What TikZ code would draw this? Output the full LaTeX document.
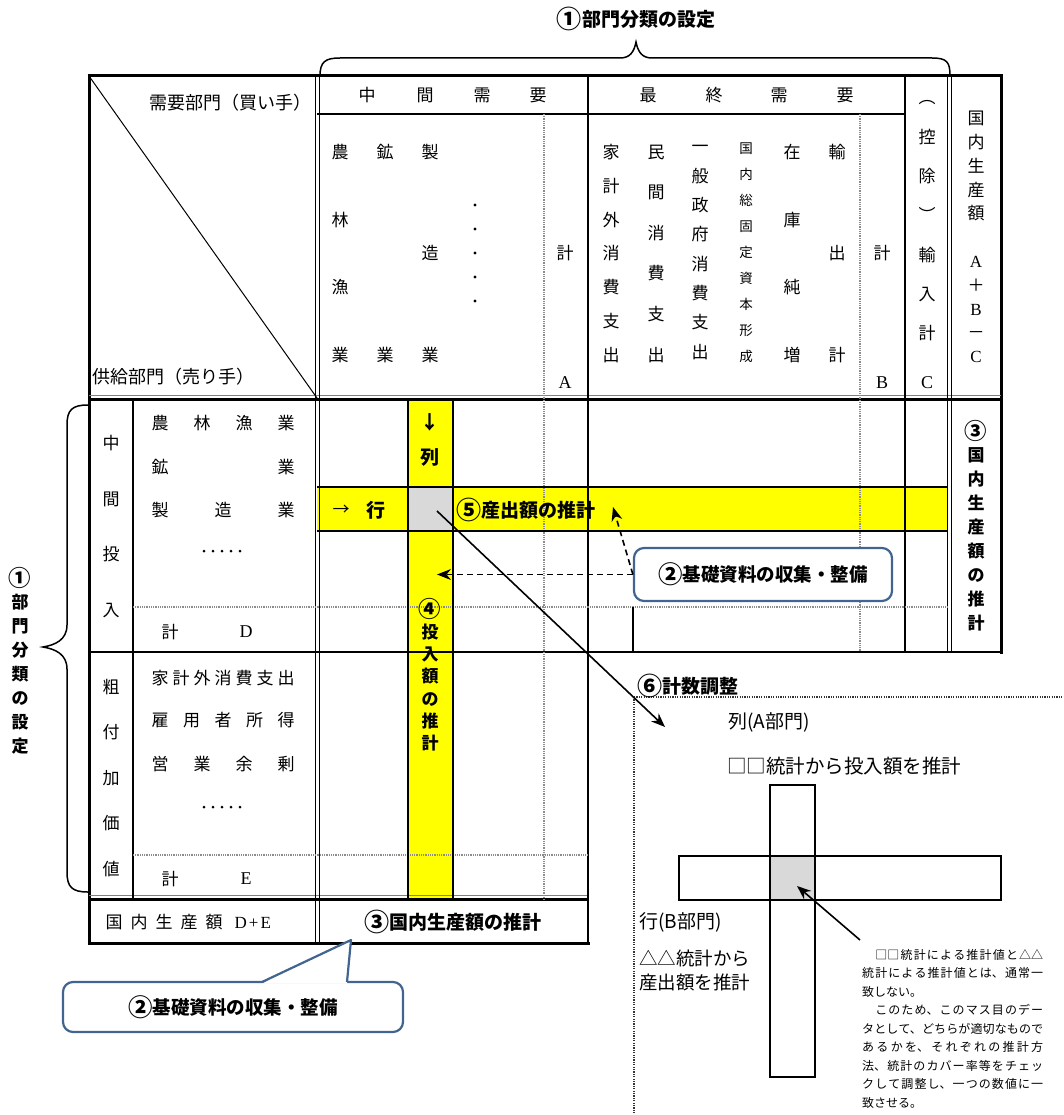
\documentclass[tikz,border=0pt]{standalone}
\usepackage{fontspec}
\setmainfont{Noto Sans CJK JP}
\newfontfamily\lat{Liberation Serif}
\usetikzlibrary{arrows.meta}
\definecolor{cyel}{RGB}{255,255,0}
\definecolor{cgray}{RGB}{217,217,217}
\definecolor{cblue}{RGB}{65,100,145}
\newcommand{\fsz}[2]{\fontsize{#1}{#2}\selectfont}
\newcommand{\cnum}[1]{\raisebox{-0.12em}{\scalebox{1.32}{#1}}}
\begin{document}
\begin{tikzpicture}[x=1pt,y=-1pt,
 tx/.style={inner sep=0pt,font=\fsz{17}{17}},
 ltx/.style={inner sep=0pt,font=\lat\fsz{18}{18}},
 vcol/.style={inner sep=0pt,align=center,font=\fsz{17}{#1}},
 vcolsm/.style={inner sep=0pt,align=center,font=\fsz{13.5}{#1}},
 bvcol/.style={inner sep=0pt,align=center,font=\bfseries\fsz{17}{#1}},
 bl/.style={inner sep=0pt,font=\bfseries\fsz{19}{19}},
 gline/.style={line width=2pt},
 bline/.style={line width=3pt},
 dline/.style={black!45,line width=1.4pt,dash pattern=on 1pt off 0.8pt},
 pline/.style={black!80,line width=1.2pt,dash pattern=on 1.2pt off 1.2pt},
 callout/.style={draw=cblue,line width=2.2pt,rounded corners=10pt,fill=white,inner sep=0pt,font=\bfseries\fsz{18.5}{18.5}},
 arr/.style={line width=1.6pt,-{Stealth[length=14pt,width=11pt]}},
 darr/.style={line width=1.6pt,dash pattern=on 6pt off 4pt,-{Stealth[length=14pt,width=11pt]}},
 brace/.style={line width=1.5pt}
]
\useasboundingbox (0,0) rectangle (1064,1115);

% ---------- fills ----------
\fill[cyel] (408,399) rectangle (453,899);
\fill[cyel] (317,487) rectangle (948,531);
\node[fill=cgray,minimum width=45pt,minimum height=44pt,inner sep=0pt] (gcell) at (430.5,509) {};

% ---------- grid ----------
\draw[bline] (87.5,76) -- (1002.5,76);
\draw[bline] (89,74.5) -- (89,944.5);
\draw[bline] (1001,74.5) -- (1001,653.5);
\draw[bline] (87.5,943) -- (589.5,943);
\draw[line width=2.5pt] (89,652) -- (1002.5,652);
\draw[black!50,line width=1pt] (89,395.5) -- (1001,395.5);
\draw[bline] (89,399.5) -- (1001,399.5);
\draw[black!50,line width=1pt] (89,895.5) -- (588,895.5);
\draw[bline] (89,899.5) -- (588,899.5);
\draw[line width=1.5pt] (315.5,76) -- (315.5,943);
\draw[line width=1.5pt] (319.5,76) -- (319.5,943);
\draw[line width=1.5pt] (947.5,76) -- (947.5,652);
\draw[line width=1.5pt] (951.5,76) -- (951.5,652);
\draw[gline] (588,76) -- (588,943);
\draw[gline] (905,76) -- (905,652);
\draw[gline] (317,114) -- (905,114);
\draw[gline] (133,399) -- (133,899);
\draw[dline] (544,114) -- (544,899);
\draw[dline] (860,114) -- (860,652);
\draw[dline] (133,607) -- (948,607);
\draw[dline] (133,855) -- (588,855);
\draw[gline] (633,607) -- (633,652);
\draw[line width=1pt] (89,76) -- (317,398);
% yellow borders
\draw[gline] (408,399) -- (408,899);
\draw[gline] (453,399) -- (453,899);
\draw[gline] (317,487) -- (948,487);
\draw[gline] (317,531) -- (948,531);

% ---------- header texts ----------
\node[inner sep=0pt,font=\fsz{18}{18},anchor=east] (dem) at (312,103) {需要部門（買い手）};
\node[inner sep=0pt,font=\fsz{18}{18},anchor=west] (sup) at (92,377) {供給部門（売り手）};
\foreach \c/\x [count=\i] in {中/367,間/425,需/482,要/538}
  \node[tx] (mid\i) at (\x,95) {\c};
\foreach \c/\x [count=\i] in {最/648,終/714,需/779,要/845}
  \node[tx] (fin\i) at (\x,95) {\c};
\node[vcol=67.7] (ci1) at (340,253.5) {農\\林\\漁\\業};
\node[vcol=203] (ci2) at (385,253.5) {鉱\\業};
\node[vcol=101.5] (ci3) at (430,253.5) {製\\造\\業};
\foreach \y in {205,229,253,277,301} \fill (475,\y) circle (1.6pt);
\node[tx] (sumA) at (565,253) {計};
\node[ltx] (labA) at (565,383) {A};
\node[vcol=33.8] (cf1) at (611,253.5) {家\\計\\外\\消\\費\\支\\出};
\node[vcol=40.6] (cf2) at (656,253.5) {民\\間\\消\\費\\支\\出};
\node[vcol=29.3] (cf3) at (700,252.5) {一\\般\\政\\府\\消\\費\\支\\出};
\node[vcolsm=26] (cf4) at (746,253) {国\\内\\総\\固\\定\\資\\本\\形\\成};
\node[vcol=67.7] (cf5) at (792,253.5) {在\\庫\\純\\増};
\node[vcol=101.5] (cf6) at (837,253.5) {輸\\出\\計};
\node[tx] (sumB) at (882,253) {計};
\node[ltx] (labB) at (882,383) {B};
\node[vcol=39.3] (imp) at (927,221) {︵\\控\\除\\︶\\輸\\入\\計};
\node[ltx] (labC) at (927,383) {C};
\node[vcol=23.8] (gdp) at (976,237) {国\\内\\生\\産\\額\\[23.8pt]{\lat A}\\＋\\{\lat B}\\－\\{\lat C}};

% ---------- body stub ----------
\node[vcol=55.7] (rin) at (111,526.5) {中\\間\\投\\入};
\node[vcol=45.5] (rva) at (111,778) {粗\\付\\加\\価\\値};
\node[tx,anchor=west] (r1) at (151.5,423) {\makebox[143pt]{農\hfill 林\hfill 漁\hfill 業}};
\node[tx,anchor=west] (r2) at (151.5,467) {\makebox[143pt]{鉱\hfill 業}};
\node[tx,anchor=west] (r3) at (151.5,510) {\makebox[143pt]{製\hfill 造\hfill 業}};
\foreach \x in {204,213,222,231,240} \fill (\x,551) circle (1.5pt);
\node[tx] (kD) at (170,632) {計};
\node[ltx] (labD) at (246,632) {D};
\node[tx,anchor=west] (v1) at (151.5,678) {\makebox[143pt]{家\hfill 計\hfill 外\hfill 消\hfill 費\hfill 支\hfill 出}};
\node[tx,anchor=west] (v2) at (151.5,720) {\makebox[143pt]{雇\hfill 用\hfill 者\hfill 所\hfill 得}};
\node[tx,anchor=west] (v3) at (151.5,764) {\makebox[143pt]{営\hfill 業\hfill 余\hfill 剰}};
\foreach \x in {204,213,222,231,240} \fill (\x,807) circle (1.5pt);
\node[tx] (kE) at (170,879) {計};
\node[ltx] (labE) at (246,879) {E};
\node[tx,anchor=west] (tot) at (105.5,922) {\makebox[117pt]{国\hfill 内\hfill 生\hfill 産\hfill 額}\hspace{12pt}{\lat D\hspace{2pt}+\hspace{2pt}E}};
\node[bl] (est3) at (453,922) {\cnum{③}国内生産額の推計};

% ---------- yellow labels ----------
\node[bl] (colar) at (430,422) {↓};
\node[bl] (col) at (430,457) {列};
\node[tx] (rowar) at (341,510) {→};
\node[bl] (row) at (376,510) {行};
\node[bl,anchor=west] (est5) at (456,510) {\cnum{⑤}産出額の推計};
\node[bvcol=22.3] (est4) at (430,675) {\cnum{④}\\投\\入\\額\\の\\推\\計};
\node[bvcol=24] (est3v) at (976,526) {\cnum{③}\\国\\内\\生\\産\\額\\の\\推\\計};

% ---------- braces ----------
\draw[brace] (320,76) .. controls (320,62) and (325,58) .. (340,58) -- (620,58)
  .. controls (630,58) and (634,52) .. (636,42) .. controls (638,52) and (642,58) .. (652,58)
  -- (932,58) .. controls (947,58) and (950,62) .. (950,76);
\node[bl] (title) at (636,19) {\cnum{①}部門分類の設定};
\draw[brace] (88,405) .. controls (72,405) and (67,410) .. (67,425) -- (67,625)
  .. controls (67,640) and (55,645) .. (43,647) .. controls (55,649) and (67,654) .. (67,669)
  -- (67,872) .. controls (67,887) and (72,892) .. (88,892);
\node[bvcol=24] (ltitle) at (20,661) {\cnum{①}\\部\\門\\分\\類\\の\\設\\定};

% ---------- panel ----------
\draw[pline] (634,697) -- (1064,697);
\draw[pline] (634,697) -- (634,1115);
\node[bl,anchor=west] (t6) at (637,686) {\cnum{⑥}計数調整};
\node[inner sep=0pt,font=\fsz{19}{19},anchor=west] (pA) at (728,722) {列(A部門)};
\node[inner sep=0pt,font=\fsz{19.5}{19.5},anchor=west] (pA2) at (727,766) {□□統計から投入額を推計};
\node[fill=cgray,minimum width=45pt,minimum height=44pt,inner sep=0pt] (pcell) at (792.5,878) {};
\draw[gline] (770,785) rectangle (815,1077);
\draw[gline] (679,856) rectangle (1001,900);
\node[inner sep=0pt,font=\fsz{19}{19},anchor=west] (pB) at (639,922) {行(B部門)};
\node[inner sep=0pt,font=\fsz{18.5}{24},anchor=west,align=left] (pB2) at (639,970) {△△統計から\\産出額を推計};
\node[inner sep=0pt,font=\fsz{12}{18.5},anchor=north west,text width=181pt,align=justify] (para) at (862,949)
 {\XeTeXlinebreaklocale "ja"\XeTeXlinebreakskip=0pt plus 3pt\tolerance=10000\parindent=0pt
 　□□統計による推計値と△△\linebreak 統計による推計値とは、通常一\linebreak 致しない。\\　このため、このマス目のデー\linebreak タとして、どちらが適切なもので\linebreak あるかを、それぞれの推計方\linebreak 法、統計のカバー率等をチェッ\linebreak クして調整し、一つの数値に一\linebreak 致させる。};
\coordinate (pstart) at (860,940);
\coordinate (ptarget) at (797,886);
\draw[arr] (pstart) -- (ptarget);

% ---------- arrows ----------
\coordinate (gstart) at (437,511);
\coordinate (pend) at (665,727);
\draw[arr] (gstart) -- (pend);

\node[callout,minimum width=258pt,minimum height=53pt] (c1) at (763,574.5) {\cnum{②}基礎資料の収集・整備};
\coordinate (t4) at (437,574.5);
\coordinate (t5) at (613,507);
\draw[darr] (c1.west) -- (t4);
\draw[darr] (c1.west) -- (t5);

\node[callout,minimum width=340pt,minimum height=50pt] (c2) at (233,1007) {\cnum{②}基礎資料の収集・整備};
\coordinate (ptip) at (351,940);
\fill[white] (262,983.5) -- (ptip) -- (347,983.5) -- cycle;
\draw[cblue,line width=2.2pt,line join=round] (262,982) -- (ptip) -- (347,982);
\end{tikzpicture}
\end{document}
